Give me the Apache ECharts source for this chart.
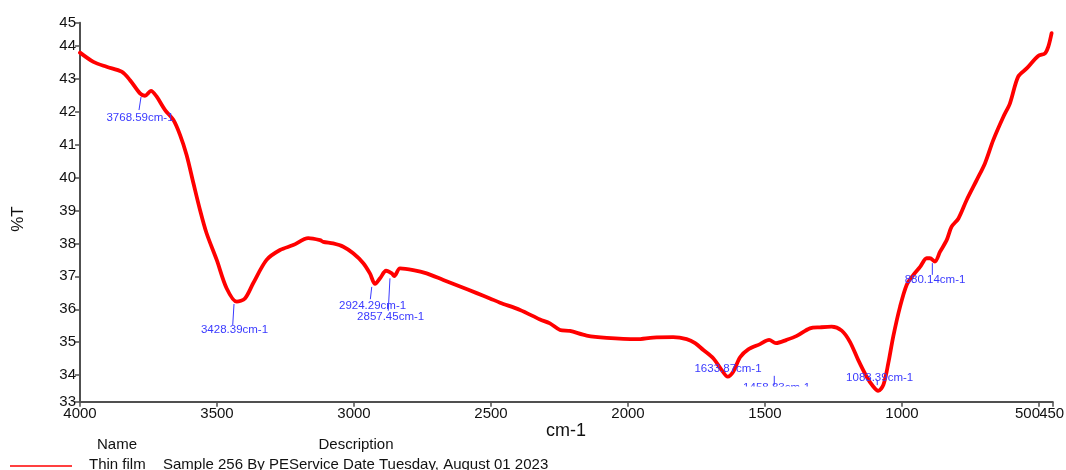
<!DOCTYPE html>
<html>
<head>
<meta charset="utf-8">
<script src="https://cdn.jsdelivr.net/npm/echarts@6/dist/echarts.min.js"></script>
<style>
  html, body { margin: 0; padding: 0; background: #ffffff; }
  #chart { width: 1066px; height: 470px; }
</style>
</head>
<body>
<div id="chart"></div>
<script>
// FTIR spectrum of the thin film sample (wavenumber in cm-1, transmittance in %T)
const wavenumbers = [
  4000, 3951, 3903, 3848, 3818, 3781, 3763, 3741, 3720, 3690,
  3659, 3635, 3611, 3586, 3562, 3538, 3501, 3465, 3428, 3398,
  3368, 3319, 3270, 3222, 3167, 3124, 3112, 3076, 3039, 3003,
  2966, 2942, 2923, 2905, 2883, 2862, 2853, 2832, 2784, 2735,
  2674, 2613, 2552, 2504, 2467, 2394, 2321, 2285, 2248, 2212,
  2151, 2078, 1968, 1908, 1835, 1786, 1755, 1725, 1689, 1658,
  1636, 1616, 1591, 1561, 1518, 1485, 1460, 1421, 1384, 1336,
  1299, 1257, 1220, 1190, 1160, 1129, 1105, 1087, 1068, 1050,
  1032, 1007, 983, 959, 934, 910, 898, 880, 861, 837,
  819, 794, 764, 727, 697, 667, 630, 606, 576, 545,
  503, 478, 466, 454
];
const transmittance = [
  43.80, 43.52, 43.37, 43.22, 42.97, 42.56, 42.49, 42.64, 42.46, 42.06,
  41.75, 41.30, 40.69, 39.83, 39.02, 38.31, 37.50, 36.64, 36.23, 36.33,
  36.79, 37.50, 37.80, 37.95, 38.16, 38.10, 38.05, 38.00, 37.90, 37.70,
  37.40, 37.09, 36.77, 36.94, 37.17, 37.09, 37.01, 37.24, 37.19, 37.09,
  36.89, 36.69, 36.49, 36.33, 36.20, 35.98, 35.69, 35.57, 35.37, 35.34,
  35.20, 35.13, 35.09, 35.14, 35.15, 35.09, 34.97, 34.76, 34.51, 34.15,
  33.95, 34.10, 34.54, 34.78, 34.94, 35.07, 34.97, 35.07, 35.19, 35.42,
  35.45, 35.47, 35.35, 35.01, 34.46, 33.95, 33.65, 33.52, 33.70, 34.36,
  35.17, 36.08, 36.74, 37.04, 37.29, 37.55, 37.55, 37.45, 37.75, 38.10,
  38.51, 38.76, 39.32, 39.93, 40.44, 41.14, 41.85, 42.26, 43.07, 43.32,
  43.70, 43.78, 43.98, 44.39
];

// Axis ticks and their labels
const xTickValues = [4000, 3500, 3000, 2500, 2000, 1500, 1000, 500, 450];
const xTickLabels = ['4000', '3500', '3000', '2500', '2000', '1500', '1000', '500', '450'];
const yTickValues = [33.19, 34, 35, 36, 37, 38, 39, 40, 41, 42, 43, 44, 44.71];
const yTickLabels = ['33', '34', '35', '36', '37', '38', '39', '40', '41', '42', '43', '44', '45'];

// Picked peaks
const peakWavenumbers = [3768.59, 3428.39, 2924.29, 2857.45, 1633.87, 1458.83, 1083.39, 880.14];
const peakTransmittance = [42.49, 36.23, 36.77, 37.01, 33.95, 34.97, 33.52, 37.45];
const peakLabels = peakWavenumbers.map(w => w.toFixed(2) + 'cm-1');

// Leader line / label placement around each peak, in pixels:
// [line x1, line y1, line x2, line y2, text x, text y] (null line = none drawn)
const peakLayout = [
  [-2.4, 1.3, -4.4, 14.3, -3.4, 21.6],
  [-2.6, 2.3, -3.9, 23.3, -2.1, 28.3],
  [-3.0, 3.0, -4.4, 15.3, -2.2, 22.0],
  [-3.1, 2.3, -4.8, 34.7, -2.4, 41.3],
  [null, null, null, null, -0.3, -7.4],
  [-2.0, 32.7, -2.0, 41.7, 0.4, 44.2],
  [-1.9, -10.7, -1.9, -5.7, 0.5, -13.4],
  [-2.5, 1.6, -2.5, 13.3, 0.2, 18.3]
];

const FONT = '"Liberation Sans", Arial, Helvetica, sans-serif';
const AXIS_COLOR = '#505050';
const PEAK_COLOR = '#3a3aff';

// the end-of-range tick (450) gets its label drawn separately, right next to "500"
const lastTick = xTickValues[xTickValues.length - 1];
const labelledXTicks = xTickValues.slice(0, -1);

const chart = echarts.init(document.getElementById('chart'), null, { renderer: 'canvas' });

const option = {
  animation: false,
  backgroundColor: '#ffffff',
  grid: { left: 80, right: 13.3, top: 22.7, bottom: 68.3, containLabel: false },
  xAxis: {
    type: 'value',
    inverse: true,
    min: 450,
    max: 4000,
    axisLine: { show: true, onZero: false, lineStyle: { color: AXIS_COLOR, width: 2 } },
    axisTick: { show: true, inside: false, length: 5, customValues: xTickValues,
                lineStyle: { color: AXIS_COLOR, width: 1.5 } },
    splitLine: { show: false },
    axisLabel: {
      customValues: labelledXTicks,
      showMinLabel: true,
      showMaxLabel: true,
      hideOverlap: false,
      margin: 5,
      color: '#111',
      fontFamily: FONT,
      fontSize: 15,
      formatter: function (v) {
        const i = xTickValues.indexOf(v);
        const t = i >= 0 ? xTickLabels[i] : String(v);
        if (v === 500) return '{r|' + t + '}';
        return t;
      },
      rich: {
        r: { fontFamily: FONT, fontSize: 15, color: '#111', padding: [0, 23, 0, 0] }
      }
    }
  },
  yAxis: {
    type: 'value',
    min: 33.19,
    max: 44.71,
    axisLine: { show: true, onZero: false, lineStyle: { color: AXIS_COLOR, width: 2 } },
    axisTick: { show: true, inside: false, length: 5, customValues: yTickValues,
                lineStyle: { color: AXIS_COLOR, width: 1.5 } },
    splitLine: { show: false },
    axisLabel: {
      customValues: yTickValues,
      showMinLabel: true,
      showMaxLabel: true,
      hideOverlap: false,
      margin: 4,
      color: '#111',
      fontFamily: FONT,
      fontSize: 15,
      formatter: function (v) {
        let best = 0;
        yTickValues.forEach((tv, i) => { if (Math.abs(tv - v) < Math.abs(yTickValues[best] - v)) best = i; });
        return yTickLabels[best];
      }
    }
  },
  series: [{
    name: 'Thin film',
    type: 'line',
    data: wavenumbers.map((w, i) => [w, transmittance[i]]),
    showSymbol: false,
    symbol: 'none',
    smooth: 0.3,
    clip: true,
    lineStyle: { color: '#ff0000', width: 3.8, cap: 'round', join: 'round' }
  }]
};

chart.setOption(option);

// Annotations and titles
const graphics = [];
const textStyle = (text, size, color, align) => ({
  text: text,
  fill: color,
  font: size + 'px ' + FONT,
  align: align || 'center',
  textAlign: align || 'center',
  verticalAlign: 'middle',
  textVerticalAlign: 'middle'
});

peakWavenumbers.forEach((w, i) => {
  const p = chart.convertToPixel({ gridIndex: 0 }, [w, peakTransmittance[i]]);
  const L = peakLayout[i];
  if (L[0] !== null) {
    graphics.push({
      type: 'line', z: 10,
      shape: { x1: p[0] + L[0], y1: p[1] + L[1], x2: p[0] + L[2], y2: p[1] + L[3] },
      style: { stroke: PEAK_COLOR, lineWidth: 1 }
    });
  }
  graphics.push({
    type: 'text', z: 10,
    x: p[0] + L[4], y: p[1] + L[5],
    style: textStyle(peakLabels[i], 11.5, PEAK_COLOR)
  });
});

// the 1458.83 label sits partly under the lower plot border and is cut off there
(function () {
  const p = chart.convertToPixel({ gridIndex: 0 }, [peakWavenumbers[5], peakTransmittance[5]]);
  graphics.push({
    type: 'rect', z: 11,
    shape: { x: p[0] - 45, y: p[1] + 43.4, width: 90, height: 13.5 },
    style: { fill: '#ffffff' }
  });
})();

// label of the end-of-range tick
(function () {
  const p = chart.convertToPixel({ gridIndex: 0 }, [lastTick, 33.19]);
  graphics.push({
    type: 'text', z: 10, x: p[0] - 1, y: p[1] + 12.5,
    style: textStyle(xTickLabels[xTickLabels.length - 1], 15, '#111')
  });
})();

// axis titles
graphics.push({ type: 'text', z: 10, x: 566, y: 431,
  style: textStyle('cm-1', 18, '#111') });
graphics.push({ type: 'text', z: 10, x: 18, y: 219, rotation: Math.PI / 2,
  style: textStyle('%T', 17, '#111') });

// key below the plot
graphics.push({ type: 'text', z: 10, x: 117, y: 445, style: textStyle('Name', 15, '#111') });
graphics.push({ type: 'text', z: 10, x: 356, y: 445, style: textStyle('Description', 15, '#111') });
graphics.push({ type: 'line', z: 10, shape: { x1: 10, y1: 466, x2: 72, y2: 466 },
  style: { stroke: '#ff0000', lineWidth: 1.5 } });
graphics.push({ type: 'text', z: 10, x: 89, y: 464.5, style: textStyle('Thin film', 15, '#111', 'left') });
graphics.push({ type: 'text', z: 10, x: 163, y: 464.5,
  style: textStyle('Sample 256 By PEService Date Tuesday, August 01 2023', 15, '#111', 'left') });

chart.setOption({ graphic: { elements: graphics } });
</script>
</body>
</html>
